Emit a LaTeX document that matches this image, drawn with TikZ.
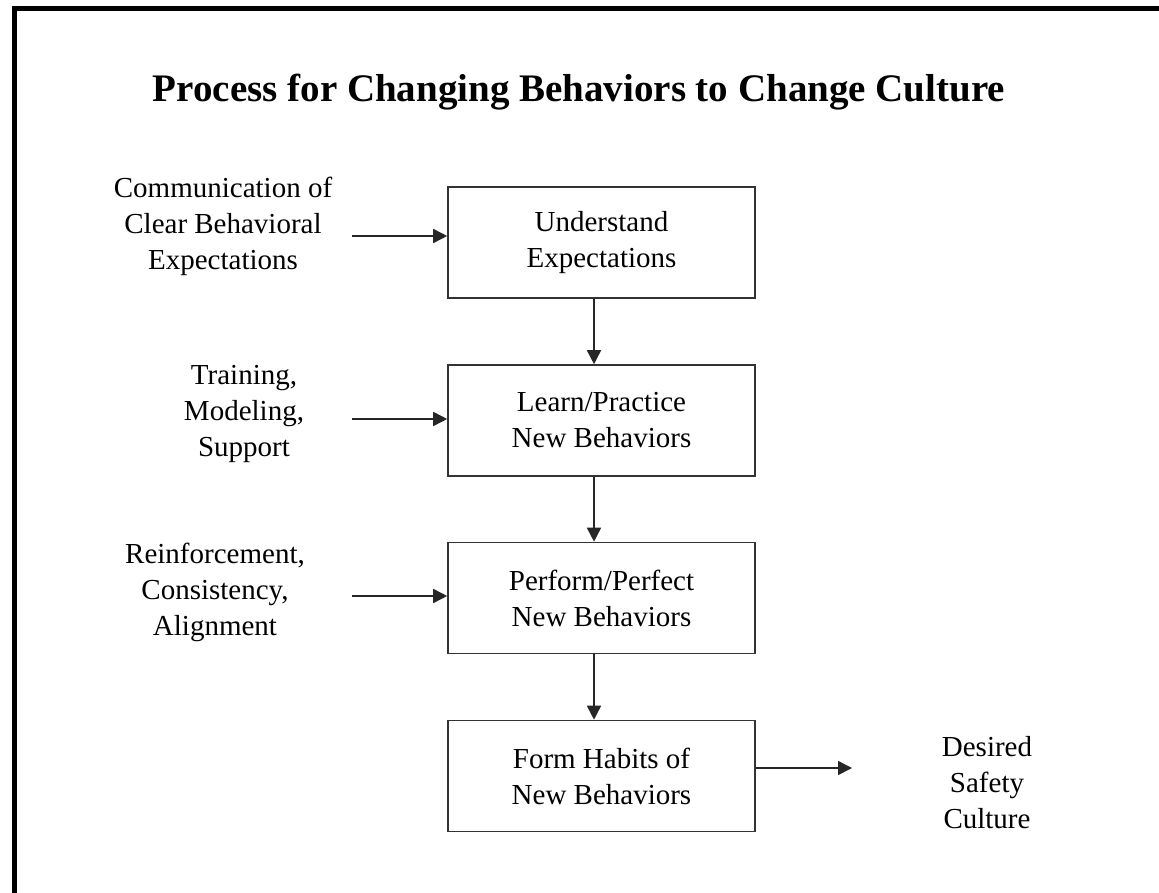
\documentclass[tikz,border=0pt]{standalone}
\usepackage{fontspec}
\setmainfont{Liberation Serif}
\usetikzlibrary{arrows.meta}
\begin{document}
\begin{tikzpicture}[x=1pt,y=-1pt,
  stepbox/.style={draw=black!80,line width=1.6pt,minimum width=307pt,minimum height=111pt,inner sep=0pt,align=center,font=\fontsize{29}{36}\selectfont},
  lbl/.style={align=center,inner sep=0pt,font=\fontsize{29}{36}\selectfont},
  arr/.style={draw=black!85,line width=1.6pt,-{Triangle[length=14pt,width=14pt]}}]
\useasboundingbox (0,0) rectangle (1159,893);
\fill[white] (0,0) rectangle (1159,893);
\draw[line width=5pt] (14,896) -- (14,9) -- (1162,9);
\node[inner sep=0pt,font=\bfseries\fontsize{39}{44}\selectfont] (title) at (579,92) {Process for Changing Behaviors to Change Culture};
\node[stepbox] (b1) at (601.5,242.5) {Understand\\Expectations};
\node[stepbox] (b2) at (601.5,420.5) {Learn/Practice\\New Behaviors};
\node[stepbox] (b3) at (601.5,598) {Perform/Perfect\\New Behaviors};
\node[stepbox] (b4) at (601.5,776) {Form Habits of\\New Behaviors};
\node[lbl] (l1) at (223,226) {Communication of\\Clear Behavioral\\Expectations};
\node[lbl] (l2) at (244,414) {Training,\\Modeling,\\Support};
\node[lbl] (l3) at (215,592) {Reinforcement,\\Consistency,\\Alignment};
\node[lbl] (l4) at (987,783) {Desired\\Safety\\Culture};
\coordinate (s1) at (352,236);
\coordinate (s2) at (352,419);
\coordinate (s3) at (352,596);
\coordinate (e4) at (852,768);
\draw[arr] (s1) -- (s1 -| b1.west);
\draw[arr] (s2) -- (s2 -| b2.west);
\draw[arr] (s3) -- (s3 -| b3.west);
\draw[arr] (e4 -| b4.east) -- (e4);
\draw[arr] ([xshift=-7.5pt]b1.south) -- ([xshift=-7.5pt]b2.north);
\draw[arr] ([xshift=-7.5pt]b2.south) -- ([xshift=-7.5pt]b3.north);
\draw[arr] ([xshift=-7.5pt]b3.south) -- ([xshift=-7.5pt]b4.north);
\end{tikzpicture}
\end{document}
